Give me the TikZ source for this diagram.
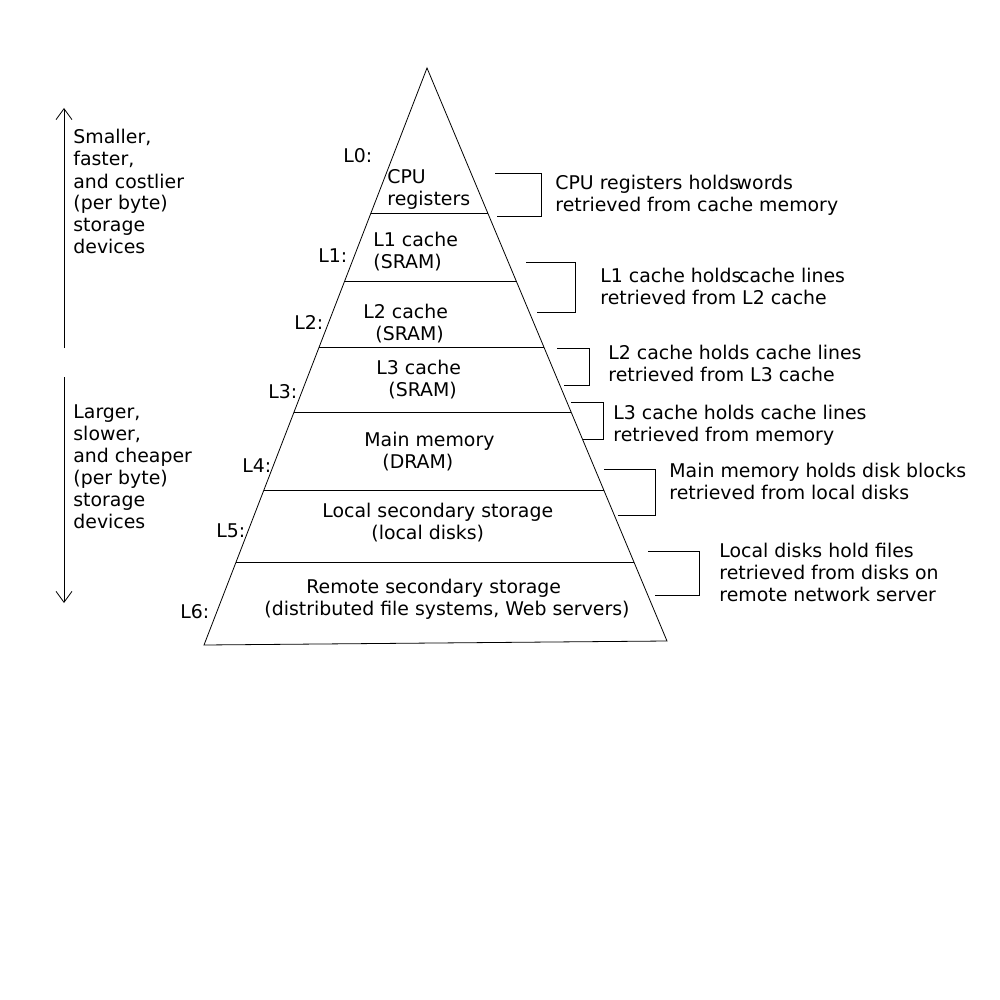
\documentclass[tikz,border=0pt]{standalone}
\usepackage{fontspec}
\setmainfont{DejaVu Sans}
\usetikzlibrary{positioning,arrows.meta}
\newcommand{\holdbrace}[5]{\draw (#1,#2) -- (#3,#2) -- (#3,#4) -- (#5,#4);}
\tikzset{
  lvl/.style={inner sep=0pt, anchor=base west},
  body/.style={inner sep=0pt, align=left, anchor=base west},
  note/.style={inner sep=0pt, align=left, anchor=base west},
  side/.style={inner sep=0pt, align=left, anchor=base west},
  trend/.style={-{Straight Barb[length=11pt,width=16pt]}}
}
\begin{document}
\begin{tikzpicture}[x=1pt,y=-1pt,line width=0.8pt,font=\fontsize{18.9}{22}\selectfont]

  \useasboundingbox (0,0) rectangle (1000,1000);

  % pyramid
  \coordinate (top) at (427,68);
  \coordinate (bl) at (204,645);
  \coordinate (br) at (667,641);
  \draw (bl) -- (top) -- (br) -- cycle;

  \draw (371,213) -- (488,213);
  \draw (345,281) -- (516,281);
  \draw (319,347) -- (544,347);
  \draw (294,412) -- (571,412);
  \draw (264,490) -- (604,490);
  \draw (236,562) -- (634,562);

  % levels
  \node[lvl] (l0) at (343,163) {L0:};
  \node[lvl] (l1) at (318,262) {L1:};
  \node[lvl] (l2) at (294,329) {L2:};
  \node[lvl] (l3) at (268,398) {L3:};
  \node[lvl] (l4) at (242,472) {L4:};
  \node[lvl] (l5) at (216,537) {L5:};
  \node[lvl] (l6) at (180,618) {L6:};

  \node[body] (reg) at (387,206) {CPU\\registers};
  \node[body] (lone) at (373,268) {L1 cache\\(SRAM)};
  \node[body] (ltwo) at (363,340) {L2 cache\\\hspace*{12pt}(SRAM)};
  \node[body] (lthree) at (376,396) {L3 cache\\\hspace*{12pt}(SRAM)};
  \node[body] (mem) at (364,468) {Main memory\\\hspace*{18pt}(DRAM)};
  \node[body] (disk) at (322,539) {Local secondary storage\\\hspace*{49pt}(local disks)};
  \node[body] (remote) at (264,615) {\hspace*{42pt}Remote secondary storage\\(distributed file systems, Web servers)};

  % what each level holds
  \holdbrace{495}{173}{541}{216}{497}
  \node[note] (hreg) at (555,212) {CPU registers holds\kern-0.45em{} words\\retrieved from cache memory};

  \holdbrace{526}{262}{575}{312}{537}
  \node[note] (hone) at (600,304) {L1 cache holds\kern-0.45em{} cache lines\\retrieved from L2 cache};

  \holdbrace{557}{348}{589}{385}{564}
  \node[note] (htwo) at (608,381) {L2 cache holds cache lines\\retrieved from L3 cache};

  \holdbrace{571}{402}{603}{439}{583}
  \node[note] (hthree) at (613,441) {L3 cache holds cache lines\\retrieved from memory};

  \holdbrace{604}{469}{655}{515}{618}
  \node[note] (hmem) at (669,499) {Main memory holds disk blocks\\retrieved from local disks};

  \holdbrace{648}{551}{699}{595}{655}
  \node[note] (hdisk) at (719,601) {Local disks hold files\\retrieved from disks on\\remote network server};

  % trend arrows
  \coordinate (upfrom) at (64,348);
  \coordinate (upto) at (64,108);
  \coordinate (downfrom) at (64,377);
  \coordinate (downto) at (64,603);
  \draw[trend] (upfrom) -- (upto);
  \draw[trend] (downfrom) -- (downto);

  \node[side] (small) at (73,254) {Smaller,\\faster,\\and costlier\\(per byte)\\storage\\devices};
  \node[side] (large) at (73,528) {Larger,\\slower,\\and cheaper\\(per byte)\\storage\\devices};

\end{tikzpicture}
\end{document}
